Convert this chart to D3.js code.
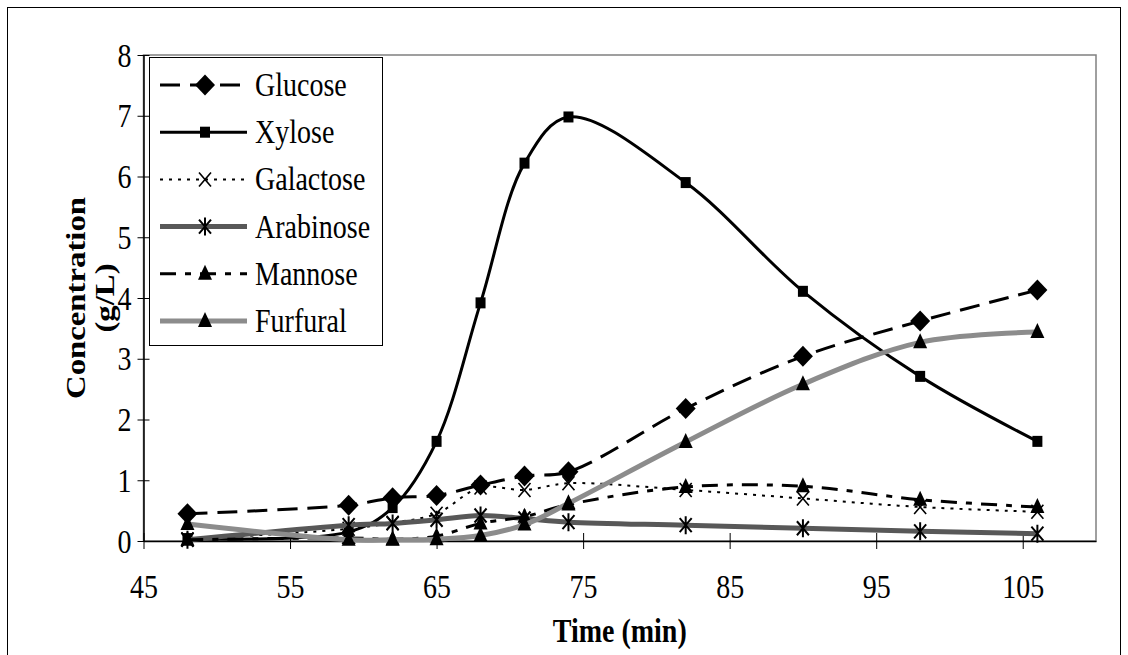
<!DOCTYPE html>
<html>
<head>
<meta charset="utf-8">
<title>Concentration vs time</title>
<script src="https://d3js.org/d3.v7.min.js"></script>
<style>
  body { margin: 0; background: #fff; }
  text { font-family: "Liberation Serif", "Times New Roman", serif; fill: #000; }
</style>
</head>
<body>
<svg width="1128" height="655"></svg>
<script>
// values
var times     = [48, 59, 62, 65, 68, 71, 74, 82, 90, 98, 106];
var glucose   = [0.45, 0.59, 0.71, 0.75, 0.92, 1.07, 1.14, 2.18, 3.04, 3.62, 4.13];
var xylose    = [0.04, 0.15, 0.55, 1.64, 3.92, 6.22, 6.98, 5.90, 4.11, 2.71, 1.64];
var galactose = [0.03, 0.20, 0.30, 0.45, 0.88, 0.84, 0.95, 0.84, 0.70, 0.56, 0.48];
var arabinose = [0.02, 0.26, 0.29, 0.35, 0.42, 0.37, 0.31, 0.26, 0.21, 0.16, 0.12];
var mannose   = [0.02, 0.05, 0.03, 0.08, 0.29, 0.40, 0.60, 0.89, 0.90, 0.68, 0.56];
var furfural  = [0.28, 0.02, 0.02, 0.03, 0.09, 0.27, 0.62, 1.63, 2.58, 3.27, 3.44];

var seriesNames = ["Glucose", "Xylose", "Galactose", "Arabinose", "Mannose", "Furfural"];
var xTicks = [45, 55, 65, 75, 85, 95, 105];
var yTicks = [0, 1, 2, 3, 4, 5, 6, 7, 8];

// styles, one per series
var styles = {
  Glucose:   { vals: glucose,   color: "#000", width: 3, dash: "20,10",     marker: "diamond" },
  Xylose:    { vals: xylose,    color: "#000", width: 3, dash: null,        marker: "square" },
  Galactose: { vals: galactose, color: "#000", width: 2, dash: "3,6",       marker: "cross" },
  Arabinose: { vals: arabinose, color: "#585858", width: 5, dash: null,     marker: "star" },
  Mannose:   { vals: mannose,   color: "#000", width: 3, dash: "16,9,6,9",  marker: "triangle" },
  Furfural:  { vals: furfural,  color: "#8c8c8c", width: 5, dash: null,     marker: "triangle" }
};

// the original figure is slightly stretched vertically, text included
var stretch = "scale(1,1.17)";
var fs = 28;

var svg = d3.select("svg");

// outer frame
svg.append("rect")
  .attr("x", 7.5).attr("y", 7.5)
  .attr("width", 1113).attr("height", 660)
  .attr("fill", "none").attr("stroke", "#000").attr("stroke-width", 1);

var x = d3.scaleLinear().domain([45, 110]).range([143.5, 1096]);
var y = d3.scaleLinear().domain([0, 8]).range([541, 55]);

// plot area border
svg.append("rect")
  .attr("x", x(45)).attr("y", y(8))
  .attr("width", x(110) - x(45)).attr("height", y(0) - y(8))
  .attr("fill", "none").attr("stroke", "#808080").attr("stroke-width", 1.5);

// axes
var yAxis = svg.append("g")
  .attr("transform", "translate(" + x(45) + ",0)")
  .call(d3.axisLeft(y).tickValues(yTicks).tickSize(6).tickSizeOuter(0));
var xAxis = svg.append("g")
  .attr("transform", "translate(0," + y(0) + ")")
  .call(d3.axisBottom(x).tickValues(xTicks).tickSize(8).tickSizeOuter(0));

yAxis.selectAll(".tick line").attr("x1", 6);
xAxis.selectAll(".tick line").attr("y1", -8);
[yAxis, xAxis].forEach(function(a) {
  a.select(".domain").attr("stroke", "#000").attr("stroke-width", 1.5);
  a.selectAll(".tick line").attr("stroke", "#000").attr("stroke-width", 1);
  a.selectAll("text").attr("font-size", fs)
    .attr("font-family", "'Liberation Serif', 'Times New Roman', serif")
    .attr("x", 0).attr("y", 0).attr("dy", null);
});
yAxis.selectAll("text").attr("transform", "translate(-12,11) " + stretch);
xAxis.selectAll("text").attr("transform", "translate(0,57) " + stretch);

// axis titles
svg.append("text")
  .attr("transform", "translate(" + ((x(45) + x(110)) / 2) + ",642) " + stretch)
  .attr("text-anchor", "middle").attr("font-size", fs).attr("font-weight", "bold")
  .text("Time (min)");

var yTitle = svg.append("text")
  .attr("transform", "translate(0," + ((y(0) + y(8)) / 2) + ") " + stretch + " rotate(-90)")
  .attr("text-anchor", "middle").attr("font-size", fs).attr("font-weight", "bold");
yTitle.append("tspan").attr("x", 0).attr("y", 85).text("Concentration");
yTitle.append("tspan").attr("x", 0).attr("y", 114).text("(g/L)");

// marker drawing
function drawMarker(g, type) {
  if (type === "diamond") {
    g.append("path").attr("d", "M0,-10.5L10,0L0,10.5L-10,0Z").attr("fill", "#000");
  } else if (type === "square") {
    g.append("rect").attr("x", -5).attr("y", -5.5).attr("width", 10).attr("height", 11).attr("fill", "#000");
  } else if (type === "triangle") {
    g.append("path").attr("d", "M0,-9L7,6L-7,6Z").attr("fill", "#000");
  } else if (type === "cross") {
    g.append("path").attr("d", "M-6,-7L6,7M-6,7L6,-7").attr("stroke", "#000").attr("stroke-width", 1.6);
  } else if (type === "star") {
    g.append("path").attr("d", "M-6,-7L6,7M-6,7L6,-7M0,-9L0,9").attr("stroke", "#000").attr("stroke-width", 2);
  }
}

var line = d3.line()
  .x(function(d) { return x(d[0]); })
  .y(function(d) { return y(d[1]); })
  .curve(d3.curveCatmullRom.alpha(0.5));

seriesNames.forEach(function(name) {
  var s = styles[name];
  var pts = times.map(function(t, i) { return [t, s.vals[i]]; });
  var g = svg.append("g");
  g.append("path")
    .datum(pts)
    .attr("d", line)
    .attr("fill", "none")
    .attr("stroke", s.color)
    .attr("stroke-width", s.width)
    .attr("stroke-dasharray", s.dash);
  g.selectAll("g.m")
    .data(pts)
    .enter().append("g")
    .attr("class", "m")
    .attr("transform", function(d) { return "translate(" + x(d[0]) + "," + y(d[1]) + ")"; })
    .each(function() { drawMarker(d3.select(this), s.marker); });
});

// legend
var legend = svg.append("g");
legend.append("rect")
  .attr("x", 149.5).attr("y", 57.5).attr("width", 233).attr("height", 288)
  .attr("fill", "#fff").attr("stroke", "#000").attr("stroke-width", 1);

var rowY = d3.scalePoint().domain(seriesNames).range([85, 321]);
seriesNames.forEach(function(name) {
  var s = styles[name];
  var ry = rowY(name);
  legend.append("line")
    .attr("x1", 160).attr("x2", 247).attr("y1", ry).attr("y2", ry)
    .attr("stroke", s.color).attr("stroke-width", s.width)
    .attr("stroke-dasharray", s.dash);
  var m = legend.append("g").attr("transform", "translate(205," + ry + ")");
  drawMarker(m, s.marker);
  legend.append("text")
    .attr("transform", "translate(255," + (ry + 11) + ") " + stretch)
    .attr("font-size", fs)
    .text(name);
});
</script>
</body>
</html>
